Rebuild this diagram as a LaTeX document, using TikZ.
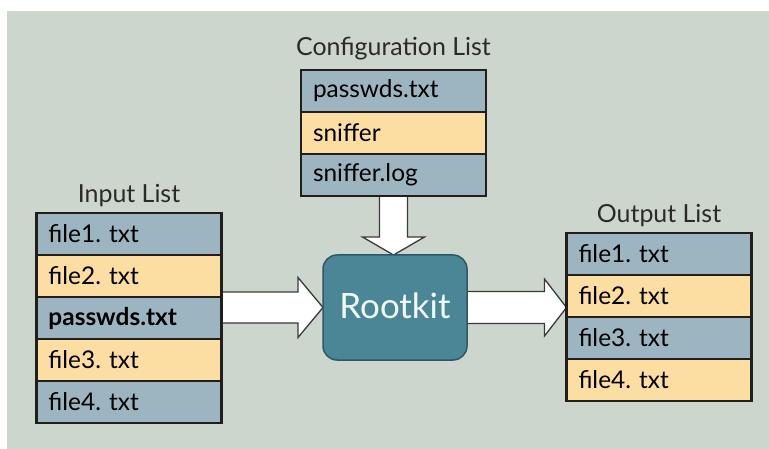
\documentclass[tikz,border=0pt]{standalone}
\usepackage{fontspec}
\setmainfont{Lato}
\usetikzlibrary{calc}

\definecolor{bgpanel}{HTML}{CDD6CC}
\definecolor{rowblue}{HTML}{9DB4C1}
\definecolor{rowtan}{HTML}{FCDDA2}
\definecolor{rkfill}{HTML}{4B8696}
\definecolor{rkedge}{HTML}{2E5866}
\definecolor{edge}{HTML}{211E1B}
\definecolor{arrowedge}{HTML}{3A3A3A}
\definecolor{titletext}{HTML}{2A2A2A}

\pgfdeclarelayer{panel}
\pgfdeclarelayer{arrowlayer}
\pgfsetlayers{panel,arrowlayer,main}

\begin{document}
\frenchspacing
\begin{tikzpicture}[x=1bp,y=-1bp,
  row/.style={draw=edge,line width=2.6bp,outer sep=0pt,
    minimum width=185bp,minimum height=42bp,text width=161bp,
    align=left,inner xsep=12bp,inner ysep=0pt,anchor=north,
    font=\fontsize{24.5}{26}\selectfont},
  blue/.style={row,fill=rowblue},
  tan/.style={row,fill=rowtan},
  listtitle/.style={font=\fontsize{25}{27}\selectfont,text=titletext,anchor=base},
  hollow/.style={fill=white,draw=arrowedge,line width=1.3bp,line join=miter},
  engine/.style={draw=rkedge,line width=1.5bp,fill=rkfill,rounded corners=14bp,
    outer sep=0pt,minimum width=144bp,minimum height=105bp,
    text=white!94!cyan,font=\fontsize{35}{37}\selectfont}]

\useasboundingbox (0,0) rectangle (769,449);
\begin{pgfonlayer}{panel}
  \fill[white] (0,0) rectangle (769,449);
  \fill[bgpanel] (7,11) rectangle (769,449);
\end{pgfonlayer}

% input list
\node[blue] (in1) at (129,213) {file1. txt};
\node[tan]  (in2) at (in1.south) {file2. txt};
\node[blue] (in3) at (in2.south) {\textbf{passwds.txt}};
\node[tan]  (in4) at (in3.south) {file3. txt};
\node[blue] (in5) at (in4.south) {file4. txt};
\node[listtitle] (intitle) at ($(in1.north)+(0,-10)$) {Input List};

% configuration list
\node[blue] (cf1) at (393.5,70) {passwds.txt};
\node[tan]  (cf2) at (cf1.south) {sniffer};
\node[blue] (cf3) at (cf2.south) {sniffer.log};
\node[listtitle] (cftitle) at ($(cf1.north)+(0,-14)$) {Configuration List};

% output list
\node[blue] (out1) at (659,233) {file1. txt};
\node[tan]  (out2) at (out1.south) {file2. txt};
\node[blue] (out3) at (out2.south) {file3. txt};
\node[tan]  (out4) at (out3.south) {file4. txt};
\node[listtitle] (outtitle) at ($(out1.north)+(0,-10)$) {Output List};

% the rootkit
\node[engine] (rk) at (395,307.5) {\raisebox{4bp}{Rootkit}};

% hollow block arrows, kept behind the boxes
\begin{pgfonlayer}{arrowlayer}
  \coordinate (lt) at (rk.west);
  \coordinate (ls) at (in3.east |- lt);
  \filldraw[hollow] ($(ls)+(0,-15.5)$) -- ($(lt)+(-25,-15.5)$) -- ($(lt)+(-25,-30)$)
    -- (lt) -- ($(lt)+(-25,30)$) -- ($(lt)+(-25,15.5)$) -- ($(ls)+(0,15.5)$);

  \coordinate (rs) at (rk.east);
  \coordinate (rt) at (out1.west |- rs);
  \filldraw[hollow] ($(rs)+(0,-16)$) -- ($(rt)+(-22,-16)$) -- ($(rt)+(-22,-28.5)$)
    -- (rt) -- ($(rt)+(-22,28.5)$) -- ($(rt)+(-22,16)$) -- ($(rs)+(0,16)$);

  \coordinate (ds) at (cf3.south);
  \coordinate (dt) at (ds |- rk.north);
  \filldraw[hollow] ($(ds)+(-14,0)$) -- ($(dt)+(-14,-18)$) -- ($(dt)+(-31,-18)$)
    -- (dt) -- ($(dt)+(31,-18)$) -- ($(dt)+(14,-18)$) -- ($(ds)+(14,0)$);
\end{pgfonlayer}
\end{tikzpicture}
\end{document}
